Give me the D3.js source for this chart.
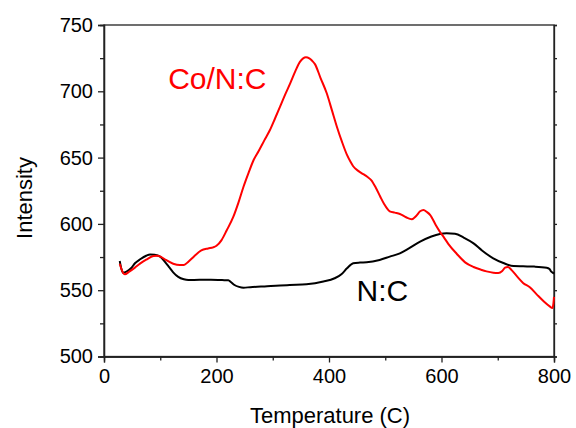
<!DOCTYPE html>
<html>
<head>
<meta charset="utf-8">
<script src="https://cdn.jsdelivr.net/npm/d3@7"></script>
<style>
  html, body { margin: 0; padding: 0; background: #fff; }
  svg { display: block; font-family: "Liberation Sans", Arial, sans-serif; }
</style>
</head>
<body>
<svg id="chart" width="576" height="428"></svg>
<script>
// N:C sample
const ncTemp = [28, 31, 34, 40, 48, 55, 65, 75, 82, 90, 100, 108, 115, 123, 132, 142, 150, 170, 190, 210, 221, 226, 232, 240, 248, 260, 290, 330, 360, 390, 410, 422, 432, 443, 455, 467, 490, 508, 526, 542, 562, 582, 597, 609, 624, 640, 657, 672, 692, 710, 728, 745, 765, 787, 792, 795, 797, 800];
const ncIntensity = [572, 566, 563.2, 564, 566.5, 570.3, 573.5, 576, 577, 576.8, 575.2, 571.5, 567.8, 563.5, 560, 558.2, 557.7, 557.8, 557.8, 557.6, 557.5, 556, 553.9, 552.5, 551.9, 552.3, 553, 554, 554.5, 556.5, 559, 562, 566.5, 570.3, 570.8, 571, 572.8, 575.3, 577.8, 581.5, 586.6, 590.5, 592.4, 592.9, 592.6, 589.5, 585.3, 580, 574, 570.5, 568.2, 568, 567.8, 567, 566, 564, 563.5, 562.5];

// Co/N:C sample
const cnTemp = [28, 31, 34, 37, 45, 55, 64, 75, 88, 95, 102, 110, 123, 135, 142, 150, 160, 173, 185, 194, 200, 209, 218, 230, 239, 248, 257, 266, 275, 285, 295, 304, 313, 322, 331, 340, 348, 354, 359, 365, 370, 375, 385, 396, 405, 414, 423, 432, 438, 443, 452, 461, 468, 475, 483, 491, 498, 508, 517, 526, 537, 547, 555, 562, 568, 574, 580, 590, 597, 604, 612, 627, 642, 657, 670, 680, 692, 701, 708, 713, 718, 724, 735, 745, 757, 770, 782, 793, 797, 799, 800];
const cnIntensity = [570, 566, 563, 562, 564, 567, 570, 573, 575.8, 576, 575, 572.8, 570, 569, 569, 571.5, 575.5, 580, 581.5, 582.3, 583.5, 587.8, 595, 605.4, 616, 628, 638.5, 648.2, 655, 663, 670.8, 679.5, 688.4, 697.5, 706, 715, 722, 724.8, 725.6, 724.8, 723, 720.5, 710, 698.5, 686, 673.3, 662, 652, 647, 643.5, 640, 637.5, 635.5, 633, 627.5, 620.7, 615, 609.5, 608.5, 607.5, 605, 603.5, 606, 609.5, 610.5, 609, 606.7, 599, 594.2, 590, 585, 577.5, 571, 567.5, 565.5, 564.2, 563.2, 563, 564.5, 567, 567.5, 565.5, 560, 555.5, 552.2, 546.5, 541.5, 537.6, 536.5, 540, 545];

const xTicks = [0, 200, 400, 600, 800];
const xMinor = [100, 300, 500, 700];
const yTicks = [500, 550, 600, 650, 700, 750];
const yMinor = [525, 575, 625, 675, 725];

const svg = d3.select("#chart");
const plotLeft = 104, plotRight = 554, plotTop = 25, plotBottom = 356.5;

const x = d3.scaleLinear().domain([0, 800]).range([plotLeft, plotRight]);
const y = d3.scaleLinear().domain([500, 750]).range([plotBottom, plotTop]);

const axisColor = "#222";

function styleAxis(g) {
  g.selectAll("path, line").attr("stroke", axisColor).attr("stroke-width", 1.3);
  g.selectAll("text").attr("fill", "#000").attr("font-size", 20);
}

// frame
svg.append("rect")
  .attr("x", plotLeft).attr("y", plotTop)
  .attr("width", plotRight - plotLeft).attr("height", plotBottom - plotTop)
  .attr("fill", "none").attr("stroke", axisColor).attr("stroke-width", 1.3);

// bottom axis
svg.append("g").attr("transform", `translate(0,${plotBottom})`)
  .call(d3.axisBottom(x).tickValues(xTicks).tickSize(6).tickPadding(6.5).tickFormat(d3.format("d")))
  .call(styleAxis);
svg.append("g").attr("transform", `translate(0,${plotBottom})`)
  .call(d3.axisBottom(x).tickValues(xMinor).tickSize(4).tickFormat(""))
  .call(styleAxis);

// left axis
svg.append("g").attr("transform", `translate(${plotLeft},0)`)
  .call(d3.axisLeft(y).tickValues(yTicks).tickSize(6).tickPadding(5).tickFormat(d3.format("d")))
  .call(styleAxis);
svg.append("g").attr("transform", `translate(${plotLeft},0)`)
  .call(d3.axisLeft(y).tickValues(yMinor).tickSize(4).tickFormat(""))
  .call(styleAxis);

// right axis ticks (no labels)
svg.append("g").attr("transform", `translate(${plotRight},0)`)
  .call(d3.axisRight(y).tickValues(yTicks.concat(yMinor)).tickSize(3).tickFormat(""))
  .call(styleAxis);

// curves
const line = (xs, ys) => d3.line()
  .x((d, i) => x(xs[i]))
  .y((d, i) => y(ys[i]))
  .curve(d3.curveMonotoneX)(ys);

const plot = svg.append("g");
plot.append("path")
  .attr("d", line(ncTemp, ncIntensity))
  .attr("fill", "none").attr("stroke", "#000").attr("stroke-width", 2)
  .attr("stroke-linejoin", "round");
plot.append("path")
  .attr("d", line(cnTemp, cnIntensity))
  .attr("fill", "none").attr("stroke", "#ff0000").attr("stroke-width", 2)
  .attr("stroke-linejoin", "round");

// series labels
svg.append("text")
  .attr("x", x(114)).attr("y", y(701.7))
  .attr("font-size", 30).attr("fill", "#ff0000")
  .text("Co/N:C");
svg.append("text")
  .attr("x", x(449)).attr("y", y(542))
  .attr("font-size", 30).attr("fill", "#000")
  .text("N:C");

// axis titles
svg.append("text")
  .attr("x", (plotLeft + plotRight) / 2 + 1).attr("y", 422.5)
  .attr("text-anchor", "middle").attr("font-size", 22)
  .text("Temperature (C)");
svg.append("text")
  .attr("transform", `translate(32,198) rotate(-90)`)
  .attr("text-anchor", "middle").attr("font-size", 22)
  .text("Intensity");
</script>
</body>
</html>
